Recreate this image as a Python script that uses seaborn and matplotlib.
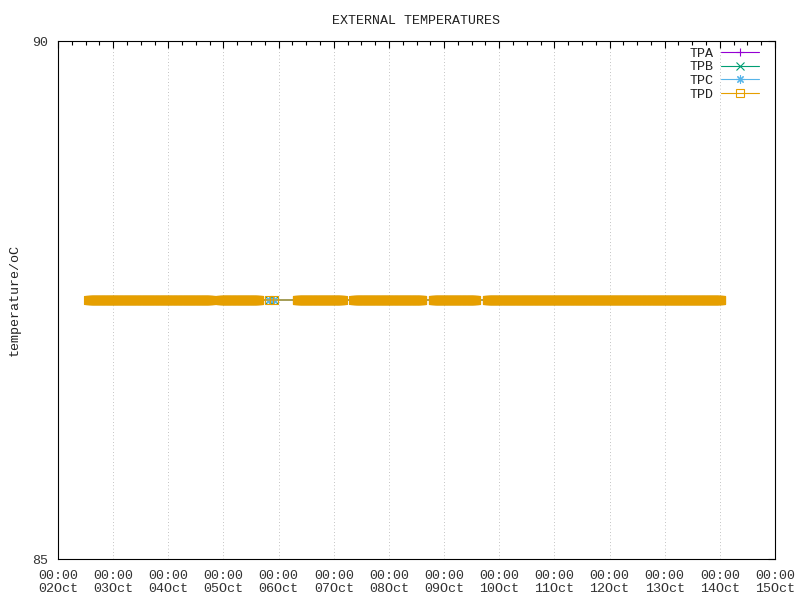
import numpy as np
import pandas as pd
import matplotlib
matplotlib.use("Agg")
import matplotlib.pyplot as plt
import matplotlib.dates as mdates
from matplotlib.lines import Line2D
import seaborn as sns

# ---- data ----
series_names = ["TPA", "TPB", "TPC", "TPD"]
series_values = [87.5, 87.5, 87.5, 87.5]          # all sensors read a constant 87.5
series_colors = ["#9400d3", "#009e73", "#56b4e9", "#e69f00"]
series_markers = ["+", "x", (8, 2, 0), "s"]

# logged stretches of readings (start, end, sampling step, break group)
seg_start = ["2023-10-02 13:15", "2023-10-04 22:15", "2023-10-05 20:00",
             "2023-10-06 07:50", "2023-10-07 08:35", "2023-10-08 19:00",
             "2023-10-09 18:30"]
seg_end = ["2023-10-04 18:50", "2023-10-05 15:40", "2023-10-05 22:10",
           "2023-10-07 03:50", "2023-10-08 14:35", "2023-10-09 14:05",
           "2023-10-14 00:45"]
seg_step = ["10min", "10min", "130min", "10min", "10min", "10min", "10min"]
seg_group = [0, 1, 1, 1, 1, 1, 1]

x_start = "2023-10-02 00:00"
x_end = "2023-10-15 00:00"
y_ticks = [85, 90]

FS = 9.6
sns.set_theme(style="white")
plt.rcParams["font.family"] = ["Liberation Mono", "DejaVu Sans Mono"]
plt.rcParams.update({"font.size": FS, "axes.labelsize": FS, "xtick.labelsize": FS,
                     "ytick.labelsize": FS, "legend.fontsize": FS, "axes.titlesize": FS})

fig = plt.figure(figsize=(8, 6), dpi=100)
ax = fig.add_axes([58 / 800, 1 - 559 / 600, (775 - 58) / 800, (559 - 41) / 600])

for name, val, col, mk in zip(series_names, series_values, series_colors, series_markers):
    frames = []
    for s, e, st, g in zip(seg_start, seg_end, seg_step, seg_group):
        t = pd.date_range(s, e, freq=st)
        frames.append(pd.DataFrame({"time": t, "temp": val, "seg": g}))
    df = pd.concat(frames, ignore_index=True)
    kw = dict(marker=mk, markersize=5.2, markeredgewidth=0.8, markeredgecolor=col)
    if mk == "s":
        kw["markerfacecolor"] = "none"
    sns.lineplot(data=df, x="time", y="temp", units="seg", estimator=None,
                 sort=False, color=col, linewidth=0.8, legend=False, ax=ax, **kw)

ax.set_xlim(pd.Timestamp(x_start), pd.Timestamp(x_end))
ax.set_ylim(85, 90)
ax.set_yticks(y_ticks)
ax.xaxis.set_major_locator(mdates.DayLocator())
ax.xaxis.set_major_formatter(mdates.DateFormatter("%H:%M\n%d%b"))
ax.xaxis.set_minor_locator(mdates.HourLocator(byhour=[6, 12, 18]))
for lab in ax.get_xticklabels():
    lab.set_linespacing(1.08)

ax.tick_params(axis="both", which="both", direction="in", top=True, right=True,
               colors="black", labelcolor="#333333", width=0.8, labelsize=FS)
ax.tick_params(axis="both", which="major", length=5)
ax.tick_params(axis="x", which="minor", length=3)
ax.tick_params(axis="x", which="major", pad=8)
ax.tick_params(axis="y", which="major", pad=7)

ax.grid(False)
ax.grid(axis="x", which="major", linestyle=(0, (1, 3)), color="#b0b0b0", linewidth=0.6)
ax.set_axisbelow(True)
for sp in ax.spines.values():
    sp.set_color("black")
    sp.set_linewidth(0.8)

ax.set_xlabel("")
ax.set_ylabel("temperature/oC", color="#222222", fontsize=FS)
ax.yaxis.set_label_coords(-(58 - 21) / 717, 0.5)
fig.text((58 + 775) / 2 / 800, 1 - 21 / 600, "EXTERNAL TEMPERATURES",
         ha="center", va="center", color="#222222", fontsize=FS)

handles = []
for name, col, mk in zip(series_names, series_colors, series_markers):
    kw = dict(marker=mk, markersize=6, markeredgewidth=0.8, markeredgecolor=col)
    if mk == "s":
        kw["markerfacecolor"] = "none"
    handles.append(Line2D([0], [0], color=col, linewidth=0.8, **kw))
leg = ax.legend(handles, series_names, loc="upper right", bbox_to_anchor=(0.994, 1.011),
                frameon=False, markerfirst=False, numpoints=1, handlelength=2.8,
                handletextpad=0.6, labelspacing=0.1, borderpad=0.4, fontsize=FS)
for t in leg.get_texts():
    t.set_color("#222222")

fig.savefig("out.png", dpi=100)
